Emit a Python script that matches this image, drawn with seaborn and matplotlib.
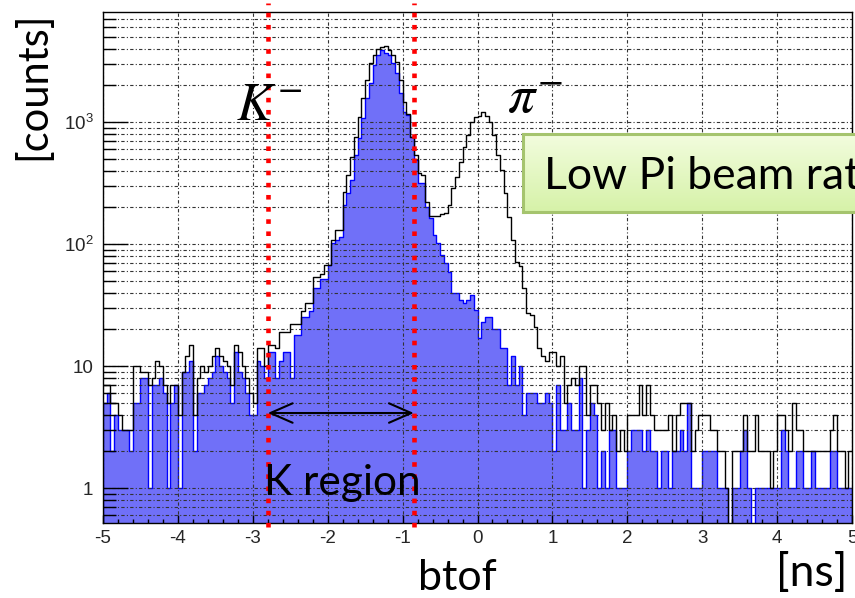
import numpy as np
import pandas as pd
import matplotlib
matplotlib.use("Agg")
import matplotlib.pyplot as plt
import seaborn as sns
from matplotlib.ticker import LogLocator, FixedLocator, FixedFormatter, NullFormatter, MultipleLocator

# ---------------- data ----------------
x_min, x_max, n_bins = -5.0, 5.0, 200

kaon_counts = (
    [5, 6, 2, 4, 3, 3, 3, 2, 5, 5, 8, 8, 1, 7, 7, 8, 6, 1, 5, 7,
     1, 9, 9, 11, 2, 6, 6, 7, 8, 9, 12, 10, 9, 8, 5, 13, 9, 8, 6, 4,
     4, 11, 10, 8]
    + [13, 13, 8, 11, 13, 13, 8, 18, 18, 25, 25, 28, 44, 44, 52, 52]
    + [67, 102, 108, 114, 210, 262, 335, 537, 738, 1080, 1570, 2090, 2930,
       3530, 3880, 3700, 3530, 3040, 2530, 1730, 1210, 1140, 755, 490, 315, 315, 200]
    + [165, 118, 102, 81, 70, 59, 40, 40, 35, 33, 35, 38, 29, 17, 23, 25, 25,
       20, 20, 14, 14, 7, 12, 7, 10, 4, 6, 6, 6, 5, 5, 6, 5, 2, 7, 3, 3, 5, 3, 3, 8, 1]
    + [3, 5, 4, 1, 2, 1, 3, 3, 1, 1, 1, 2, 3, 3, 3, 2, 3, 2, 2, 1,
       2, 2, 1, 2, 2, 3, 2, 5, 1, 1, 1, 2, 2, 2, 2, 1, 1, 1, 0, 1,
       1, 2, 3, 1, 0, 1, 1, 1, 1, 1, 1, 1, 3, 2, 1, 1, 2, 2, 1, 1,
       2, 1, 1, 1, 1, 2, 2, 1, 1, 1, 1]
)

all_counts = (
    [7, 7, 5, 5, 4, 3, 3, 3, 10, 10, 9, 9, 7, 8, 11, 10, 7, 5, 7, 7,
     4, 9, 12, 15, 4, 8, 10, 9, 10, 12, 14, 12, 11, 10, 7, 15, 13, 10, 8, 6,
     5, 14, 14, 10]
    + [15, 15, 14, 19, 19, 19, 22, 22, 22, 28, 33, 33, 54, 54, 57, 67]
    + [67, 108, 130, 130, 265, 370, 520, 755, 1100, 1570, 2200, 3040, 3530,
       4000, 4100, 4200, 3880, 3530, 3100, 2200, 1450, 1160, 755, 537, 380, 370, 220]
    + [170, 170, 170, 175, 180, 208, 290, 355, 470, 625, 780, 1000, 1100, 1120,
       1210, 1120, 1000, 780, 537, 405, 262, 166, 108, 71, 66, 44, 27, 26, 21,
       14, 12, 11, 13, 13, 10, 12, 5, 7, 8, 7, 10, 10]
    + [4, 7, 7, 5, 3, 5, 3, 4, 2, 3, 2, 4, 4, 4, 7, 4, 7, 4, 3, 3,
       3, 3, 4, 2, 4, 5, 5, 5, 2, 3, 4, 4, 4, 3, 3, 2, 2, 1, 0, 2,
       2, 2, 4, 2, 2, 4, 2, 2, 2, 1, 2, 4, 4, 3, 2, 5, 3, 3, 2, 2,
       2, 2, 2, 2, 2, 3, 4, 2, 2, 1, 2]
)

cut_edges = [-2.8, -0.85]
y_tick_vals = [1, 10, 100, 1000]
y_tick_labels = ["1", "10", r"$10^{2}$", r"$10^{3}$"]
x_tick_vals = [-5, -4, -3, -2, -1, 0, 1, 2, 3, 4, 5]
x_tick_labels = ["-5", "-4", "-3", "-2", "-1", "0", "1", "2", "3", "4", "5"]

# ---------------- style ----------------
sns.set_theme(style="white")
plt.rcParams["font.family"] = ["Liberation Sans", "DejaVu Sans"]
plt.rcParams["mathtext.fontset"] = "custom"
plt.rcParams["mathtext.rm"] = "Liberation Sans"
plt.rcParams["mathtext.it"] = "Liberation Sans:italic"

W, H = 855, 598
fig = plt.figure(figsize=(W / 100, H / 100), dpi=100)
fig.patch.set_facecolor("white")


def fx(px):
    return px / W


def fy(py):
    return 1 - py / H


ax_l, ax_r, ax_t, ax_b = 103, 852, 12, 523
ax = fig.add_axes([fx(ax_l), fy(ax_b), (ax_r - ax_l) / W, (ax_b - ax_t) / H])
ax.set_facecolor("white")

edges = np.linspace(x_min, x_max, n_bins + 1)
centers = 0.5 * (edges[:-1] + edges[1:])
df = pd.DataFrame({"btof": centers, "kaon": kaon_counts, "all": all_counts})

ax.set_yscale("log")
sns.histplot(data=df, x="btof", weights="kaon", bins=n_bins, binrange=(x_min, x_max),
             element="step", fill=True, facecolor="#7070f8", edgecolor="#0000ff",
             linewidth=1.0, ax=ax, zorder=2)
sns.histplot(data=df, x="btof", weights="all", bins=n_bins, binrange=(x_min, x_max),
             element="step", fill=False, color="black", linewidth=1.0, ax=ax, zorder=3)

ax.set_xlim(x_min, x_max)
ax.set_ylim(0.517, 7980)
ax.set_xlabel("")
ax.set_ylabel("")

# ticks
ax.xaxis.set_major_locator(FixedLocator(x_tick_vals))
ax.xaxis.set_major_formatter(FixedFormatter(x_tick_labels))
ax.xaxis.set_minor_locator(MultipleLocator(0.2))
ax.yaxis.set_major_locator(FixedLocator(y_tick_vals))
ax.yaxis.set_major_formatter(FixedFormatter(y_tick_labels))
ax.yaxis.set_minor_locator(LogLocator(base=10, subs=np.arange(2, 10)))
ax.yaxis.set_minor_formatter(NullFormatter())

ax.tick_params(axis="x", which="major", direction="in", length=6, width=1,
               labelsize=13.5, pad=5, color="black", bottom=True)
ax.tick_params(axis="x", which="minor", direction="in", length=3, width=1,
               color="black", bottom=True)
ax.tick_params(axis="y", which="major", direction="in", length=18, width=1,
               labelsize=13.5, pad=7, color="black", left=True)
ax.tick_params(axis="y", which="minor", direction="in", length=9, width=1,
               color="black", left=True)

# grid
ax.grid(False)
ax.xaxis.grid(True, which="major", color="#333333", linewidth=0.8,
              linestyle=(0, (3, 2, 1, 2)))
ax.yaxis.grid(True, which="both", color="#333333", linewidth=0.8,
              linestyle=(0, (3, 2, 1, 2)))
ax.set_axisbelow(False)
for gl in ax.get_xgridlines() + ax.get_ygridlines():
    gl.set_zorder(4)

for s in ax.spines.values():
    s.set_visible(True)
    s.set_color("black")
    s.set_linewidth(1.0)
    s.set_zorder(6)

# red dotted cut lines
for xc in cut_edges:
    ax.axvline(xc, ymin=-0.008, ymax=1.017, color="#ff0000", linewidth=3.3,
               linestyle=":", clip_on=False, zorder=7)

# double arrow for the K region
ax.annotate("", xy=(cut_edges[0], 4.12), xytext=(cut_edges[1], 4.12),
            arrowprops=dict(arrowstyle="<->,head_length=0.8,head_width=0.35",
                            color="black", lw=1.5, shrinkA=0, shrinkB=0,
                            mutation_scale=20),
            zorder=8)

txt_font = ["Lato", "DejaVu Sans"]

fig.text(fx(264), fy(495), "K region", fontsize=30.5, family=txt_font,
         ha="left", va="baseline", color="black", zorder=9)

# particle labels
fig.text(fx(236), fy(120), r"$K^{-}$", fontsize=38, math_fontfamily="stix",
         ha="left", va="baseline", color="black")
fig.text(fx(507), fy(113), r"$\pi^{-}$", fontsize=39, math_fontfamily="stix",
         ha="left", va="baseline", color="black")

# axis titles
fig.text(fx(33), fy(86), "[counts]", fontsize=30, family=txt_font,
         rotation=90, ha="center", va="center", color="black")
fig.text(fx(457), fy(590), "btof", fontsize=31, family=txt_font,
         ha="center", va="baseline", color="black")
fig.text(fx(812), fy(586), "[ns]", fontsize=32, family=txt_font,
         ha="center", va="baseline", color="black")

# green note box (runs off the right edge, as in the slide)
bx = fig.add_axes([fx(523), fy(212), 400 / W, (212 - 134) / H], zorder=10)
grad = np.linspace(0, 1, 64)[:, None]
top_c = np.array([0.95, 0.99, 0.87])
bot_c = np.array([0.84, 0.95, 0.66])
img = top_c[None, None, :] * (1 - grad[:, :, None]) + bot_c[None, None, :] * grad[:, :, None]
bx.imshow(img, aspect="auto", extent=[0, 1, 0, 1], origin="upper")
bx.set_xticks([])
bx.set_yticks([])
for s in bx.spines.values():
    s.set_color("#a5c46e")
    s.set_linewidth(2.2)
fig.text(fx(544), fy(189), "Low Pi beam rate", fontsize=32, family=txt_font,
         ha="left", va="baseline", color="black", zorder=11)

fig.savefig("out.png", dpi=100, facecolor="white")
